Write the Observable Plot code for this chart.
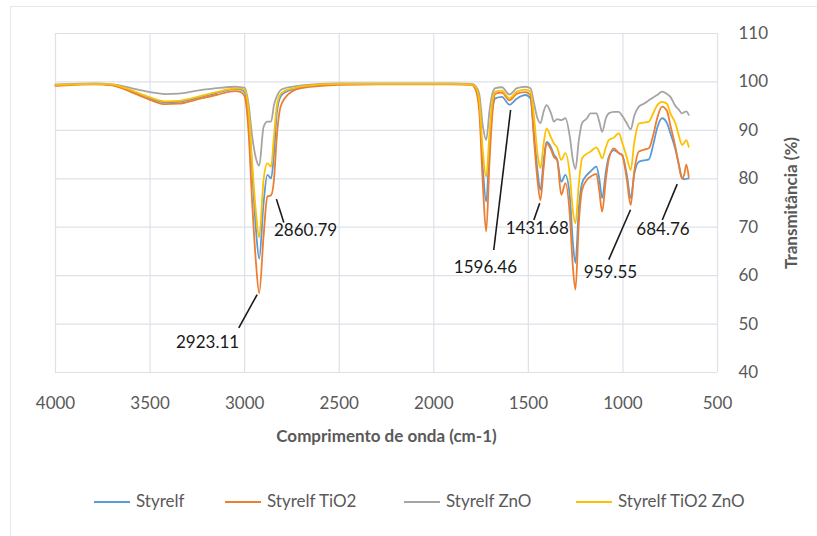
<!DOCTYPE html>
<html>
<head>
<meta charset="utf-8">
<script src="https://cdn.jsdelivr.net/npm/d3@7"></script>
<script src="https://cdn.jsdelivr.net/npm/@observablehq/plot@0.6"></script>
<style>
  html, body { margin: 0; padding: 0; background: #fff; }
  body { width: 817px; height: 536px; position: relative; overflow: hidden; font-family: Lato, "Open Sans", sans-serif; }
  #frame { position: absolute; left: 10px; top: 6px; width: 820px; height: 540px; border-left: 1.5px solid #e3e6ec; border-top: 1.5px solid #e3e6ec; }
  #chart { position: absolute; left: 0; top: 0; }
  g[aria-label="x-axis label"] text, g[aria-label="y-axis label"] text { font-weight: 700; }
  #legend { position: absolute; left: 0; top: 489px; width: 817px; height: 24px; }
  #legend .item { position: absolute; top: 0; height: 24px; line-height: 24px; font-size: 17px; color: #595959; white-space: nowrap; }
  #legend .item i { display: inline-block; width: 36px; height: 2px; vertical-align: middle; margin-right: 6px; position: relative; top: -1px; }
</style>
</head>
<body>
<div id="frame"></div>
<div id="chart"></div>
<div id="legend"></div>
<script>
// ---- data ----
const wavenumber = [4000,3900,3800,3700,3650,3600,3500,3420,3350,3250,3150,3050,3020,3000,2980,2960,2940,2923,2900,2880,2860,2845,2830,2810,2780,2750,2700,2500,2300,2100,1900,1800,1780,1760,1740,1723,1705,1690,1674,1640,1600,1560,1515,1489,1470,1452,1436,1420,1404,1380,1365,1348,1326,1304,1280,1265,1251,1233,1216,1190,1172,1140,1125,1110,1090,1075,1048,1022,1004,980,959,940,916,890,863,840,819,793,767,749,722,705,687,675,665,652];

const styrelf = [99.3,99.5,99.6,99.4,98.9,98.1,96.6,95.8,95.9,96.7,97.7,98.5,98.4,97.9,93.6,81.8,69.4,63.5,74.9,80.8,80.1,85.3,93.6,97.0,98.0,98.4,99.0,99.6,99.6,99.6,99.6,99.5,98.8,95.6,81.8,75.3,86.7,94.5,96.6,96.9,95.3,96.6,97.3,96.6,89.4,81.8,77.7,83.5,87.6,86.5,85.0,84.0,79.4,80.8,76.0,67.0,62.6,74.0,79.1,80.8,81.5,82.5,80.0,76.0,81.5,84.5,85.9,85.3,84.9,81.0,76.0,81.0,83.5,83.8,84.0,87.0,90.5,92.5,91.5,89.4,86.0,83.0,80.1,79.9,80.0,80.1];

const styrelfTiO2 = [99.2,99.4,99.5,99.3,98.7,97.9,96.3,95.4,95.5,96.4,97.3,98.1,97.9,97.0,90.1,75.0,62.6,56.4,68.1,76.3,76.6,79.8,88.7,94.9,97.0,98.0,98.7,99.4,99.5,99.5,99.5,99.4,98.5,94.2,78.4,69.1,83.9,93.5,97.6,97.8,96.2,97.6,97.9,97.3,88.0,79.8,75.6,82.0,87.3,86.0,84.5,83.9,76.7,79.1,72.0,62.0,57.1,71.0,77.7,79.8,80.4,81.0,77.5,73.2,80.0,84.0,86.3,85.3,84.9,80.0,74.6,81.5,85.6,86.0,86.3,89.0,92.5,94.9,94.0,91.0,86.5,83.0,80.1,81.0,82.9,80.4];

const styrelfZnO = [99.5,99.6,99.7,99.5,99.2,98.7,97.9,97.5,97.6,98.2,98.7,99.0,98.9,98.8,95.6,88.7,84.2,82.7,90.7,91.8,91.8,95.2,97.0,98.3,98.8,99.0,99.3,99.7,99.7,99.7,99.7,99.6,99.2,97.6,90.7,88.0,94.2,97.6,98.7,98.9,97.4,98.7,99.0,98.7,95.6,92.5,91.5,93.8,95.2,93.5,91.8,92.3,92.1,92.5,88.5,84.0,82.0,88.0,91.5,92.5,93.5,93.5,91.8,89.7,92.5,93.5,93.8,93.8,93.0,91.5,90.2,93.0,94.9,95.5,96.2,96.8,97.3,98.0,97.5,96.9,95.0,94.3,93.5,93.8,93.9,93.2];

const styrelfTiO2ZnO = [99.4,99.5,99.6,99.5,99.0,98.3,96.8,96.0,96.1,96.9,97.9,98.6,98.6,98.3,94.4,83.2,72.9,67.9,79.8,83.2,82.5,88.8,95.0,97.5,98.3,98.6,99.1,99.6,99.6,99.6,99.6,99.5,99.0,96.3,85.3,80.4,89.5,96.3,98.0,98.2,96.6,98.0,98.4,98.0,92.8,85.3,82.2,87.0,90.4,88.5,87.3,86.5,83.9,85.3,80.5,73.5,70.8,79.0,84.2,85.2,85.6,86.5,85.5,84.2,86.5,88.0,88.5,89.4,87.5,84.5,81.8,87.5,91.4,91.6,91.8,93.5,95.2,95.9,95.5,93.5,91.4,89.0,87.0,87.5,88.0,86.6];

const seriesNames = ["Styrelf", "Styrelf TiO2", "Styrelf ZnO", "Styrelf TiO2 ZnO"];
const seriesValues = [styrelf, styrelfTiO2, styrelfZnO, styrelfTiO2ZnO];
const seriesColors = ["#5B9BD5", "#ED7D31", "#A5A5A5", "#FFC000"];

const xTicks = [4000, 3500, 3000, 2500, 2000, 1500, 1000, 500];
const yTicks = [40, 50, 60, 70, 80, 90, 100, 110];

// peak annotations: label position and leader line ends
const peakLabels = ["2923.11", "2860.79", "1596.46", "1431.68", "959.55", "684.76"];
const labelX = [3196, 2678, 1727, 1453, 1066, 788];
const labelY = [46.1, 69.4, 61.7, 69.8, 60.7, 69.6];
const leaderX1 = [2934, 2832, 1594, 1440, 960, 713];
const leaderY1 = [56.1, 75.8, 94.2, 74.95, 73.6, 78.9];
const leaderX2 = [3031, 2793, 1683, 1471, 1075, 792];
const leaderY2 = [49.2, 70.95, 65.3, 71.5, 63.3, 71.5];

// ---- build tables ----
const lineMarks = seriesValues.map((vals, s) =>
  Plot.line(wavenumber.map((w, i) => ({w, t: vals[i]})), {
    x: "w", y: "t", stroke: seriesColors[s], strokeWidth: 1.8, curve: "monotone-x"
  })
);
const annots = peakLabels.map((text, i) => ({
  text, x: labelX[i], y: labelY[i], x1: leaderX1[i], y1: leaderY1[i], x2: leaderX2[i], y2: leaderY2[i]
}));

const chart = Plot.plot({
  width: 817,
  height: 470,
  marginLeft: 55,
  marginRight: 100,
  marginTop: 33,
  marginBottom: 98,
  x: { domain: [4000, 500] },
  y: { domain: [40, 110] },
  style: { fontFamily: "Lato, 'Open Sans', sans-serif", fontSize: "17px", background: "transparent", overflow: "visible" },
  marks: [
    Plot.gridX(xTicks, { stroke: "#dde1e8", strokeOpacity: 1, strokeWidth: 1.2 }),
    Plot.gridY(yTicks, { stroke: "#dde1e8", strokeOpacity: 1, strokeWidth: 1.2 }),
    Plot.axisX(xTicks, {
      tickSize: 0, tickPadding: 24, fill: "#595959", tickFormat: d => String(d),
      label: "Comprimento de onda (cm-1)", labelAnchor: "center", labelOffset: 69, labelArrow: "none"
    }),
    Plot.axisY(yTicks, {
      anchor: "right", tickSize: 0, tickPadding: 21, fill: "#595959", textAnchor: "start", tickFormat: d => String(d),
      label: "Transmitância (%)", labelAnchor: "center", labelOffset: 79, labelArrow: "none"
    }),
    ...lineMarks,
    Plot.link(annots, { x1: "x1", y1: "y1", x2: "x2", y2: "y2", stroke: "#1a1a1a", strokeWidth: 1.6 }),
    Plot.text(annots, { x: "x", y: "y", text: "text", fill: "#1a1a1a", fontSize: 17 })
  ]
});
document.getElementById("chart").appendChild(chart);

// ---- legend ----
const legendLeft = [94, 225, 404, 576];
const legend = document.getElementById("legend");
seriesNames.forEach((name, i) => {
  const item = document.createElement("span");
  item.className = "item";
  item.style.left = legendLeft[i] + "px";
  const sw = document.createElement("i");
  sw.style.background = seriesColors[i];
  item.appendChild(sw);
  item.appendChild(document.createTextNode(name));
  legend.appendChild(item);
});
</script>
</body>
</html>
